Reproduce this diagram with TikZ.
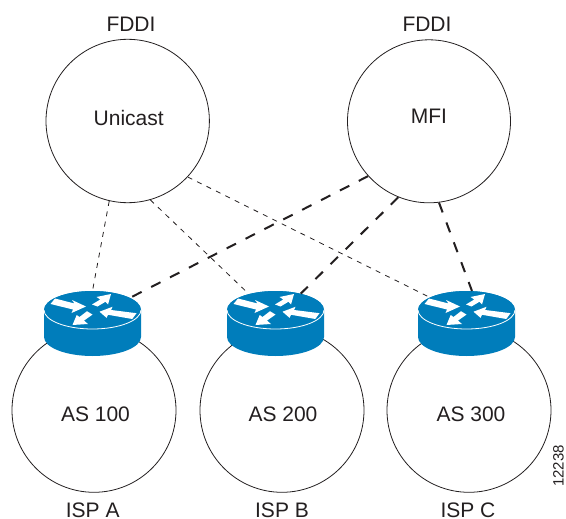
\documentclass[tikz,border=0pt]{standalone}
\usepackage{fontspec}
\setmainfont{Liberation Sans}
\usetikzlibrary{shapes.geometric}
\definecolor{ciscoblue}{RGB}{0,125,187}
\definecolor{ink}{RGB}{35,31,32}
\tikzset{
  x=1pt,y=-1pt,
  netcircle/.style={circle,draw=ink,line width=0.8pt,fill=white,inner sep=0pt,minimum size=#1},
  lbl/.style={font=\fontsize{21}{25}\selectfont,text=ink,inner sep=0pt},
  thinlink/.style={draw=ink,line width=0.8pt,dash pattern=on 5pt off 5.5pt},
  thicklink/.style={draw=ink,line width=2pt,dash pattern=on 10.5pt off 10.7pt},
  routertop/.style={ellipse,inner sep=0pt,minimum width=97pt,minimum height=38pt,fill=ciscoblue},
}
\newcommand{\routerbody}[1]{%
  \begin{scope}[shift={(#1)}]
    \fill[ciscoblue] (-48.5,0) -- (-48.5,27) arc[start angle=180,end angle=360,x radius=48.5,y radius=-19] -- (48.5,0) -- cycle;
    \fill[ciscoblue] (0,0) ellipse[x radius=48.5,y radius=19];
    \draw[white,line width=0.8pt] (-48.5,0) arc[start angle=180,end angle=360,x radius=48.5,y radius=-19];
    \fill[white] (-42,-6) -- (-37.5,-11.5) -- (-18,-6.5) -- (-20.5,-10) -- (-6.5,-3.5) -- (-21,3) -- (-19.5,-0.5) -- cycle;
    \fill[white] (18.5,-16) -- (4,-13) -- (7.8,-10.5) -- (-0.5,-5.5) -- (5,-3.5) -- (13,-8.3) -- (15.5,-5.5) -- cycle;
    \fill[white] (-20,15) -- (-4.5,14) -- (-8.5,10.6) -- (0,4.6) -- (-5.5,1.2) -- (-13,7) -- (-15.8,5) -- cycle;
    \fill[white] (7,1.7) -- (20,-3.2) -- (18.6,0) -- (44,3.2) -- (39.8,9) -- (15.6,4.8) -- (14,7.8) -- cycle;
  \end{scope}}
\begin{document}
\begin{tikzpicture}
\useasboundingbox (0,0) rectangle (566,519);
% circles
\node[netcircle=163.4pt] (uni) at (127.7,121) {};
\node[netcircle=163pt] (mfi) at (429,121.3) {};
\node[netcircle=164pt] (as1) at (94,410.3) {};
\node[netcircle=164pt] (as2) at (282,410.3) {};
\node[netcircle=164pt] (as3) at (469,410.3) {};
% routers
\node[routertop] (r1) at (92.5,310) {};
\node[routertop] (r2) at (275.5,310) {};
\node[routertop] (r3) at (466.5,310) {};
\routerbody{92.5,310}
\routerbody{275.5,310}
\routerbody{466.5,310}
% connectors
\draw[thinlink] (uni.257.4) -- (r1.90);
\draw[thinlink] (uni.286) -- (r2.149);
\draw[thinlink] (uni.317.5) -- (r3.161);
\draw[thicklink] (mfi.222.3) -- (r1.18);
\draw[thicklink] (mfi.248.4) -- (r2.33);
\draw[thicklink] (mfi.277.8) -- (r3.74);
% labels
\node[lbl] (l1) at (131,24.7) {FDDI};
\node[lbl] (l2) at (427,24.7) {FDDI};
\node[lbl] (l3) at (128.7,118) {Unicast};
\node[lbl] (l4) at (429,116.5) {MFI};
\node[lbl] (l5) at (95.5,414.5) {AS 100};
\node[lbl] (l6) at (283,414.5) {AS 200};
\node[lbl] (l7) at (471,414.5) {AS 300};
\node[lbl] (l8) at (92.7,510) {ISP A};
\node[lbl] (l9) at (282,510) {ISP B};
\node[lbl] (l10) at (468,510) {ISP C};
\node[lbl,font=\fontsize{15}{18}\selectfont,rotate=90] (l11) at (558.5,466) {12238};
\end{tikzpicture}
\end{document}
